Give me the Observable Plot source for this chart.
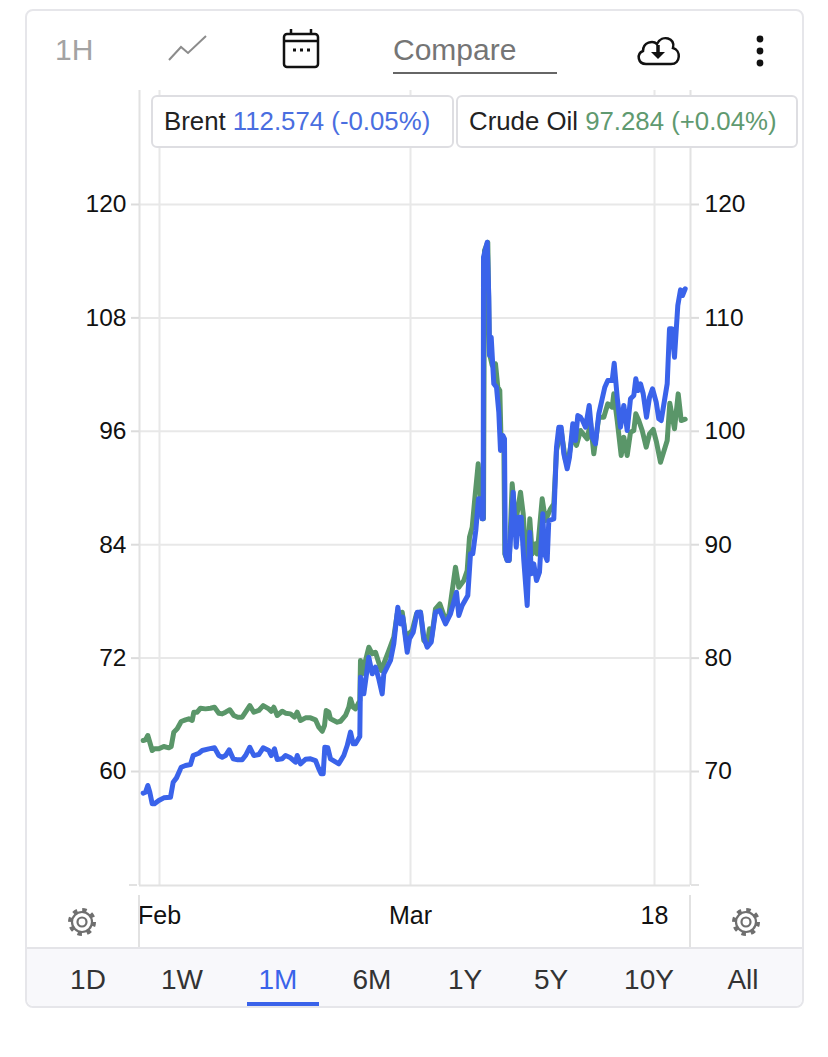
<!DOCTYPE html>
<html><head><meta charset="utf-8">
<script src="https://cdn.jsdelivr.net/npm/d3@7"></script>
<script src="https://cdn.jsdelivr.net/npm/@observablehq/plot@0.6"></script>
<style>
html,body{margin:0;padding:0;background:#fff;width:828px;height:1057px;overflow:hidden;font-family:"Liberation Sans",Arial,sans-serif;}
#page{position:relative;width:828px;height:1057px;}
.abs{position:absolute;}
.t{position:absolute;white-space:nowrap;line-height:1;}
#card{left:25px;top:9px;width:775px;height:995px;border:2px solid #e6e6ea;border-radius:8px;}
#bar{left:27px;top:947px;width:775px;height:59px;background:#f8f8fb;border-top:2px solid #e4e4e8;border-radius:0 0 7px 7px;box-sizing:border-box;}
.leg{position:absolute;top:95px;height:53px;box-sizing:border-box;border:2px solid #dedee2;border-radius:6px;background:#fff;font-size:25.8px;line-height:49px;padding-left:11px;color:#222;white-space:nowrap;}
.rng{position:absolute;top:966px;font-size:28px;line-height:1;color:#333;transform:translateX(-50%);white-space:nowrap;}
#chart{position:absolute;left:0;top:90px;}
#chart svg{display:block;}
</style></head>
<body><div id="page">
<div id="card" class="abs"></div>
<div id="bar" class="abs"></div>
<div id="chart"></div>
<div class="t" style="left:55px;top:35px;font-size:30px;color:#a3a3a3">1H</div>
<svg class="abs" style="left:166px;top:33px" width="42" height="30"><path d="M3 27 L15 14 L22 20 L40 3" fill="none" stroke="#8c8c8c" stroke-width="2"/></svg>
<svg class="abs" style="left:281px;top:27px" width="40" height="42"><rect x="3" y="7" width="34" height="33" rx="3" fill="none" stroke="#111" stroke-width="2.5"/><path d="M3 14H37M10 2V7M30 2V7" stroke="#111" stroke-width="2.5" fill="none"/><path d="M12 23h3M19 23h3M26 23h3" stroke="#111" stroke-width="3"/></svg>
<div class="t" style="left:393px;top:35px;font-size:30px;color:#757575">Compare</div>
<div class="abs" style="left:393px;top:72px;width:164px;height:2px;background:#666"></div>
<svg class="abs" style="left:635px;top:33px" width="46" height="34"><path d="M11 31 C3 31 1 21 8 18 C8 9 18 7 22 11 C27 1 41 5 38 15 C46 17 46 31 36 31 Z" fill="none" stroke="#111" stroke-width="2.5"/><path d="M23 12V22" stroke="#111" stroke-width="3.5"/><path d="M16 19h14l-7 7z" fill="#111"/></svg>
<svg class="abs" style="left:750px;top:33px" width="20" height="36"><circle cx="10" cy="6" r="3.4" fill="#111"/><circle cx="10" cy="18" r="3.4" fill="#111"/><circle cx="10" cy="30" r="3.4" fill="#111"/></svg>
<div class="leg" style="left:151px;width:303px">Brent <span style="color:#4a6ee0">112.574 (-0.05%)</span></div>
<div class="leg" style="left:456px;width:342px">Crude Oil <span style="color:#5f9a70">97.284 (+0.04%)</span></div>
<svg class="abs" style="left:67px;top:907px" width="30" height="30"><g fill="none" stroke="#6f6f6f"><circle cx="15" cy="15" r="10" stroke-width="2.2"/><circle cx="15" cy="15" r="12" stroke-width="4" stroke-dasharray="4.4 5"/><circle cx="15" cy="15" r="4.5" stroke-width="2.2"/></g></svg>
<svg class="abs" style="left:731px;top:907px" width="30" height="30"><g fill="none" stroke="#6f6f6f"><circle cx="15" cy="15" r="10" stroke-width="2.2"/><circle cx="15" cy="15" r="12" stroke-width="4" stroke-dasharray="4.4 5"/><circle cx="15" cy="15" r="4.5" stroke-width="2.2"/></g></svg>
<div class="abs" style="left:138px;top:895px;width:2px;height:52px;background:#e2e2e2"></div>
<div class="abs" style="left:689px;top:895px;width:2px;height:52px;background:#e2e2e2"></div>
<div class="abs" style="left:129px;top:884px;width:8px;height:2px;background:#e2e2e2"></div>
<div class="abs" style="left:691px;top:884px;width:8px;height:2px;background:#e2e2e2"></div>
<div id="ranges"></div>
<div class="abs" style="left:247px;top:1002px;width:72px;height:4px;background:#3a63ea"></div>
</div>
<script>
// trading-time position of each sample (arbitrary session units)
const crudeT = [
3.7,6,8.3,10.3,12.7,15,19.3,24.3,29.3,31.7,
34.3,37.7,41.7,46,49.3,52.7,54.3,57.7,61,66,
71,75,79.3,82.7,86,90.3,94.3,98.3,102.7,106,
110.3,114.3,119.3,123.7,129.3,131.7,134.3,137.7,142.7,146,
151,155,157.7,161,166,171,176,179.3,182.7,185,
186.7,189.3,191,197.7,201,206,209.3,211,213.7,216,
220.3,221,222.7,229.3,232.7,236,241.7,249.3,254.3,257.7,
260.3,262.7,267.7,269.3,272.7,277,281,284.3,287.7,290,
291.7,296,300.3,305,309.3,316,319.3,324.3,327.7,330,
332.7,335.3,338.7,341,342.7,344,345,348.3,350,352.7,
356,358.3,360.3,361.7,364.3,365.3,367.7,369.7,372.7,376,
381,383.7,386,387.7,390.3,392.7,396,397.7,402.7,406,
411,414.3,417,421.7,426,429.3,433.3,437,441,447.7,
451,454.3,459.3,464.3,468.3,472.7,474.3,477.7,481.7,484.3,
487.7,491,494.3,496.3,499.3,502.7,506.7,510,513.7,517,
521,527.7,530.3,535,538.7,541.7,545.7];
const crudeOil = [
63.28,63.35,63.81,63.10,62.22,62.40,62.40,62.65,62.51,62.65,
64.16,64.52,65.29,65.47,65.58,65.40,66.28,66.28,66.70,66.63,
66.70,66.80,66.17,66.10,66.28,66.53,65.93,65.75,65.75,66.28,
66.98,66.28,66.46,66.98,66.63,66.38,66.80,65.93,66.38,66.17,
66.10,65.75,66.28,65.40,65.68,65.68,65.47,64.69,64.26,64.87,
66.46,66.28,65.58,65.22,65.32,65.93,66.80,67.69,66.80,66.63,
67.51,71.75,70.34,73.15,72.45,72.62,70.69,72.80,74.21,76.69,
75.80,76.86,73.15,74.57,74.92,76.69,76.86,73.86,73.51,75.10,
73.86,77.22,77.74,76.33,76.51,81.62,79.50,80.21,81.27,84.79,
85.85,88.86,92.56,89.03,86.74,86.74,115.13,116.0,104.20,102.96,
103.14,100.67,100.32,94.32,95.2,83.02,82.33,82.33,90.44,86.21,
89.56,87.27,83.39,80.92,86.74,83.02,84.09,83.02,88.86,86.56,
87.80,88.31,93.97,96.08,92.91,93.26,95.73,94.50,96.08,95.20,
96.96,93.62,97.49,97.49,98.91,98.55,99.96,97.14,93.44,95.38,
93.44,95.90,96.08,97.85,97.14,96.08,94.32,95.73,96.19,94.85,
92.73,95.03,98.97,96.26,99.96,97.14,97.28];
const brentT = [
3.7,6,8.3,10.3,12.7,15,19.3,24.3,31,33.7,
37,41.7,46,51,53.7,59.3,62.7,69.3,75,79.3,
82.7,86,89.7,93.7,98.3,102.7,106,110.3,114.3,119.3,
123.7,129.3,131.7,135,137.7,142.7,146,151,156,157.7,
161,166,171,176,179.3,181.7,183.7,185.3,188.3,191,
199.3,204.3,207.7,211,213.7,216,220.3,221,224.3,229.3,
232.7,236,239.3,242.7,244.3,251,254.3,258.3,261,263.3,
267.7,270,273.7,277.7,281,284.3,287.7,291.7,296,300.3,
306,311,317,319.3,322.7,328.3,331,333.3,336.3,339,
341,342.7,343.7,344,347.7,349.3,350,351.7,354.3,357,
359.3,361,363.3,365,365.8,367.7,369.7,373.7,376.7,379.3,
381.7,384.3,387.7,390.3,391.7,394.3,397,400,403.3,405,
407.7,409.3,414.3,417,419.3,421.7,424.3,427.7,430,433.3,
436,438.3,441,443,446,449.7,452.7,456,459.3,462.7,
465.3,468.3,472.7,474.7,477.7,481,484.3,487.7,491,494.3,
496.3,498.7,501,503.7,507,510,513,516.7,519.3,521.7,
527.7,530,532.3,535,538.3,541,543,545.7];
const brent = [
68.09,68.17,68.77,68.17,67.15,67.15,67.44,67.68,67.73,69.06,
69.44,70.38,70.53,70.62,71.41,71.61,71.85,72.00,72.09,71.41,
71.26,71.41,71.91,71.12,71.03,71.03,71.41,72.14,71.41,71.50,
72.09,71.85,71.41,72.00,71.06,71.12,71.41,71.21,70.82,71.41,
70.68,71.08,71.12,70.97,70.24,69.80,69.80,72.14,72.09,71.12,
70.68,71.41,72.29,73.47,72.44,72.44,73.09,78.32,76.85,80.08,
78.62,79.20,78.17,76.85,78.62,79.79,81.26,84.49,83.02,83.61,
80.52,81.70,82.28,84.05,84.05,81.84,80.96,81.40,84.05,84.20,
83.02,83.91,85.81,83.76,84.64,85.52,89.20,89.20,91.25,94.05,
94.05,92.28,92.28,115.35,116.67,111.82,106.68,108.30,104.19,103.89,
101.68,98.31,99.63,99.33,89.18,88.61,88.61,94.63,89.78,92.42,
92.42,88.61,84.64,91.10,87.43,88.31,86.84,87.58,92.72,89.20,
88.61,92.13,92.28,98.60,100.36,100.36,98.02,96.69,97.72,100.66,
99.19,101.39,101.24,100.95,100.36,102.28,99.48,98.90,101.54,102.87,
103.89,104.48,104.48,106.0,103.0,100.36,102.28,100.07,102.87,103.16,
104.63,103.60,104.19,103.31,101.24,103.0,103.75,102.57,101.10,100.95,
104.19,109.04,109.04,106.53,111.09,112.47,111.97,112.57];
const leftTicks = [60,72,84,96,108,120];
const xTicks = [20,271,515];
const xLabels = ["Feb","Mar","18"];
const ranges = ["1D","1W","1M","6M","1Y","5Y","10Y","All"];
const rangeCenters = [88,182,278,372,465,551,649,743];

const brentToLeft = b => 60 + (b - 70) * 1.2;
const leftToBrent = v => 70 + (v - 60) / 1.2;
const crudeRows = crudeOil.map((v,i)=>({t:crudeT[i],v}));
const brentRows = brent.map((v,i)=>({t:brentT[i],v:brentToLeft(v)}));
const GRID="#e8e8e8";
const chart = Plot.plot({
  width:828,height:855,
  marginLeft:139,marginRight:138,marginTop:0,marginBottom:60,
  style:{background:"transparent",fontFamily:'"Liberation Sans",Arial,sans-serif',fontSize:"24px",overflow:"visible"},
  x:{type:"linear",domain:[0,551]},
  y:{domain:[47.94,132.06]},
  marks:[
    Plot.ruleY(leftTicks,{stroke:GRID,strokeWidth:2}),
    Plot.ruleX(xTicks,{stroke:GRID,strokeWidth:2}),
    Plot.ruleX([0,551],{stroke:"#e2e2e2",strokeWidth:2}),
    Plot.ruleY([47.94],{stroke:"#e2e2e2",strokeWidth:2}),
    Plot.axisY({anchor:"left",ticks:leftTicks,tickSize:8,tickPadding:5,label:null,stroke:"#dcdcdc",strokeWidth:2,fill:"#111",fontSize:24.5}),
    Plot.axisY({anchor:"right",ticks:leftTicks,tickSize:8,tickPadding:6,label:null,stroke:"#dcdcdc",strokeWidth:2,fill:"#111",fontSize:24.5,tickFormat:d=>String(Math.round(leftToBrent(d)))}),
    Plot.axisX({ticks:xTicks,tickSize:0,tickPadding:21,label:null,fill:"#111",fontSize:25,tickFormat:d=>xLabels[xTicks.indexOf(d)]}),
    Plot.line(crudeRows,{x:"t",y:"v",stroke:"#5a9669",strokeWidth:5,strokeLinejoin:"round"}),
    Plot.line(brentRows,{x:"t",y:"v",stroke:"#3a63ea",strokeWidth:5,strokeLinejoin:"round"})
  ]
});
document.getElementById("chart").appendChild(chart);
const host=document.getElementById("ranges");
ranges.forEach((r,i)=>{const d=document.createElement("div");d.className="rng";d.textContent=r;d.style.left=rangeCenters[i]+"px";if(r==="1M")d.style.color="#3a63ea";host.appendChild(d);});
</script>
</body></html>
